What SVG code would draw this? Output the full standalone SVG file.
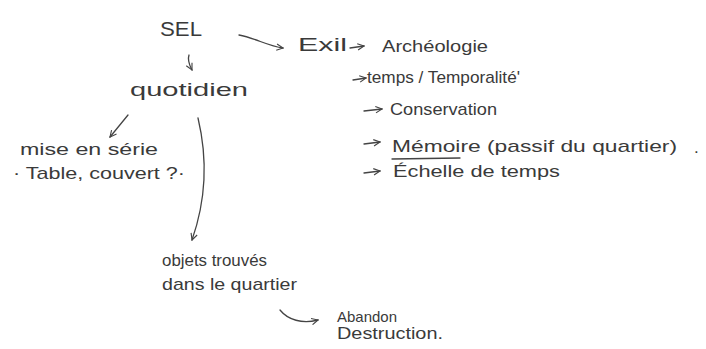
<svg xmlns="http://www.w3.org/2000/svg" width="706" height="349" viewBox="0 0 706 349">
<defs>
<style>
text{font-family:"Liberation Sans","DejaVu Sans",sans-serif;fill:#3a3a3a;font-size:17px;}
.c{fill:none;stroke:#444;stroke-width:1.3;stroke-linecap:round;stroke-linejoin:round;}
</style>
<marker id="ah" viewBox="0 0 10 10" refX="9" refY="5" markerWidth="8" markerHeight="8" orient="auto" markerUnits="userSpaceOnUse">
<path d="M1,1 L9,5 L1,9" fill="none" stroke="#444" stroke-width="1.4"/>
</marker>
</defs>
<rect width="706" height="349" fill="#fff"/>
<g id="connectors">
<path class="c" d="M239,35 C255,38 268,46 283,48" marker-end="url(#ah)"/>
<path class="c" d="M189,55 C187,61 190,66 192,70" marker-end="url(#ah)"/>
<path class="c" d="M128,115 L110,137" marker-end="url(#ah)"/>
<path class="c" d="M198,118 C208,160 206,200 192,240" marker-end="url(#ah)"/>
<path class="c" d="M280,310 C288,320 302,324 318,320" marker-end="url(#ah)"/>
<path class="c" d="M350,48 L364,46" marker-end="url(#ah)"/>
<path class="c" d="M353,80 L366,78" marker-end="url(#ah)"/>
<path class="c" d="M364,111 L382,109" marker-end="url(#ah)"/>
<path class="c" d="M364,144 L380,142" marker-end="url(#ah)"/>
<path class="c" d="M364,173 L380,171" marker-end="url(#ah)"/>
</g>
<g id="sel"><text x="160" y="36" style="font-size:21px" textLength="42" lengthAdjust="spacingAndGlyphs">SEL</text></g>
<g id="quotidien"><text x="130" y="96" style="font-size:19px" textLength="118" lengthAdjust="spacingAndGlyphs">quotidien</text></g>
<g id="exil"><text x="298" y="51" style="font-size:19px" textLength="49" lengthAdjust="spacingAndGlyphs">Exil</text></g>
<g id="archeologie"><text x="382" y="52" textLength="106" lengthAdjust="spacingAndGlyphs">Archéologie</text></g>
<g id="temps"><text x="367" y="83" textLength="153" lengthAdjust="spacingAndGlyphs">temps / Temporalité'</text></g>
<g id="conservation"><text x="390" y="115" textLength="107" lengthAdjust="spacingAndGlyphs">Conservation</text></g>
<g id="memoire"><text x="392" y="152" textLength="285" lengthAdjust="spacingAndGlyphs">Mémoire (passif du quartier)</text><text x="694" y="153">.</text><path class="c" d="M392,159 L460,158"/></g>
<g id="echelle"><text x="393" y="177" textLength="167" lengthAdjust="spacingAndGlyphs">Échelle de temps</text></g>
<g id="mise"><text x="20" y="155" textLength="138" lengthAdjust="spacingAndGlyphs">mise en série</text><text x="13" y="179" textLength="172" lengthAdjust="spacingAndGlyphs">· Table, couvert ?·</text></g>
<g id="objets"><text x="162" y="266" textLength="105" lengthAdjust="spacingAndGlyphs">objets trouvés</text><text x="162" y="290" textLength="135" lengthAdjust="spacingAndGlyphs">dans le quartier</text></g>
<g id="abandon"><text x="337" y="322" style="font-size:15px" textLength="60" lengthAdjust="spacingAndGlyphs">Abandon</text><text x="337" y="339" style="font-size:16px" textLength="106" lengthAdjust="spacingAndGlyphs">Destruction.</text></g>
</svg>
